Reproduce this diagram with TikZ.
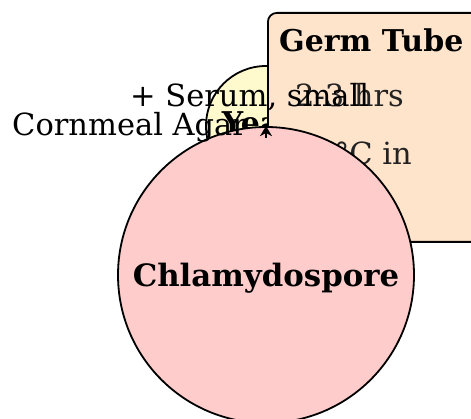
\documentclass[tikz,border=0pt]{standalone}
\usepackage{fontspec}
\setmainfont{DejaVu Serif}
\usetikzlibrary{arrows.meta}
\definecolor{yeastfill}{HTML}{FFFACD}
\definecolor{chlfill}{HTML}{FFCCCC}
\definecolor{gtfill}{HTML}{FFE4CC}
\definecolor{bodytext}{HTML}{222222}
\tikzset{
  big/.style={font=\fontsize{30.5}{36}\selectfont},
  blob/.style={circle, draw=black, line width=1.8pt, inner sep=0pt, big},
  infobox/.style={draw=black, line width=1.8pt, rounded corners=9pt, fill=gtfill, inner sep=0pt},
  txt/.style={big, inner sep=0pt, anchor=base west},
  arr/.style={-{Stealth[length=10pt,width=12pt,inset=3pt]}, line width=1.5pt},
}
\begin{document}
\begin{tikzpicture}[x=1pt,y=-1pt]
\useasboundingbox (0,0) rectangle (471,419);
\clip (0,0) rectangle (471,419);
% yeast
\node[blob, fill=yeastfill, minimum size=120pt, font=\fontsize{30}{36}\selectfont\bfseries] (yeast) at (266,126) {\raisebox{6pt}{Yeast}};
% germ tube box
\node[infobox, anchor=north west, minimum width=260pt, minimum height=229pt] (gt) at (267,12) {};
\node[txt, font=\fontsize{30}{36}\selectfont\bfseries] (gttitle) at (279,52) {Germ Tube};
\node[txt, text=bodytext] (gtline1) at (295,107) {2-3 hrs};
\node[txt, text=bodytext] (gtline2) at (295,165) {37°C in};
% chlamydospore
\node[blob, fill=chlfill, minimum size=296pt, font=\fontsize{30.8}{36}\selectfont\bfseries, text depth=0pt] (chl) at (266,275) {Chlamydospore};
% connector
\draw[arr, shorten <=49pt] (yeast) -- (chl);
% labels
\node[txt] (lblserum) at (130,107) {+ Serum, small};
\node[txt] (lblagar) at (12,136) {Cornmeal Agar};
\end{tikzpicture}
\end{document}
